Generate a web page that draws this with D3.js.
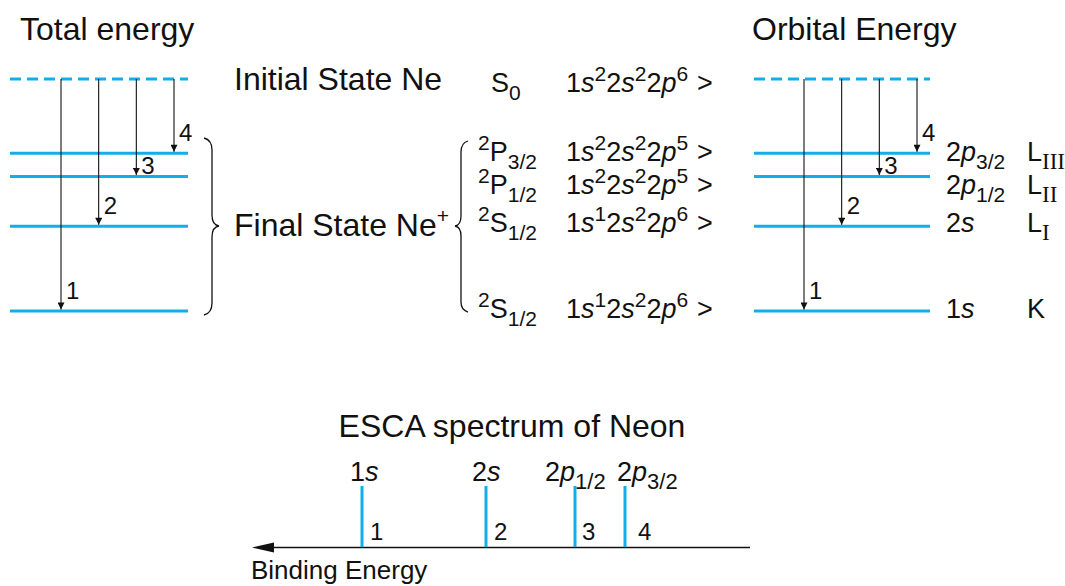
<!DOCTYPE html>
<html><head><meta charset="utf-8">
<script src="https://cdn.jsdelivr.net/npm/d3@7"></script>
<style>
html,body{margin:0;padding:0;background:#fff;}
text{font-family:"Liberation Sans",Arial,Helvetica,sans-serif;fill:#111;}
</style></head>
<body>
<svg id="c" width="1065" height="586"></svg>
<script>
// ---------------- data ----------------
// energy levels (relative energies, initial state = 0, deepest level = 100)
const initialEnergy = 0;
const levelNames   = ["2p3/2", "2p1/2", "2s", "1s"];
const levelEnergy  = [32, 42, 63.5, 100];
const shellNames   = ["L", "L", "L", "K"];
const shellSubs    = ["III", "II", "I", ""];
const arrowNumbers = ["4", "3", "2", "1"];
const arrowOrder   = [3, 2, 1, 0];          // arrow column index for each level
// term symbols of the states
const termMult   = ["", "2", "2", "2", "2"];
const termL      = ["S", "P", "P", "S", "S"];
const termJ      = ["0", "3/2", "1/2", "1/2", "1/2"];
const occ1s      = ["2", "2", "2", "1", "1"];
const occ2s      = ["2", "2", "2", "2", "2"];
const occ2p      = ["6", "5", "5", "6", "6"];
// ESCA spectrum (schematic binding-energy positions, relative units)
const peakLabels = ["1s", "2s", "2p", "2p"];
const peakSubs   = ["", "", "1/2", "3/2"];
const peakNumbers= ["1", "2", "3", "4"];
const peakBE     = [77.6, 52.8, 35, 25];
const peakHeight = [1, 1, 1, 1];
// texts
const titleLeft = "Total energy", titleRight = "Orbital Energy";
const initialLabel = "Initial State Ne", finalLabel = "Final State Ne";
const spectrumTitle = "ESCA spectrum of Neon", axisLabel = "Binding Energy";

// ---------------- drawing ----------------
const svg = d3.select("#c");
const BLUE = "#12aee9";
const serif = '"Liberation Serif","Times New Roman",serif';

svg.append("defs").append("marker")
  .attr("id","ah").attr("viewBox","0 0 10 10").attr("refX",10).attr("refY",5)
  .attr("markerWidth",11).attr("markerHeight",7).attr("markerUnits","userSpaceOnUse")
  .attr("orient","auto")
  .append("path").attr("d","M0,0 L10,5 L0,10 Z").attr("fill","#111");

const y = d3.scaleLinear().domain([0, 100]).range([79, 311]);

// rich text helper: parts = [[text, kind, opts]], kind: n, i, sup, sub
function rich(x, yb, size, parts, anchor, ratio) {
  ratio = ratio || 0.76;
  const t = svg.append("text").attr("x", x).attr("y", yb)
    .attr("font-size", size).attr("text-anchor", anchor || "start")
    .style("white-space","pre");
  let off = 0;
  parts.forEach(([s, kind, o]) => {
    o = o || {};
    let target = 0, fs = size;
    if (kind === "sup") { target = -0.4 * size; fs = Math.round(size * ratio); }
    if (kind === "sub") { target = 0.3 * size; fs = Math.round(size * ratio); }
    const sp = t.append("tspan").text(s).attr("font-size", fs).attr("dy", target - off);
    if (o.dx) sp.attr("dx", o.dx);
    if (kind === "i" || o.italic) sp.attr("font-style", "italic");
    if (o.serif) sp.style("font-family", serif);
    off = target;
  });
  return t;
}

// titles
rich(20, 40, 32, [[titleLeft, "n"]]);
rich(752, 40, 32, [[titleRight, "n"]]);

function panel(x0, x1, ax0, ax1) {
  const g = svg.append("g");
  const ax = d3.scaleLinear().domain([0, 3]).range([ax0, ax1]);
  g.append("line").attr("x1", x0).attr("x2", x1).attr("y1", y(initialEnergy)).attr("y2", y(initialEnergy))
    .attr("stroke", BLUE).attr("stroke-width", 3).attr("stroke-dasharray", "11,6");
  g.selectAll(".lv").data(levelEnergy).join("line")
    .attr("x1", x0).attr("x2", x1).attr("y1", d => y(d)).attr("y2", d => y(d))
    .attr("stroke", BLUE).attr("stroke-width", 3);
  levelEnergy.forEach((e, i) => {
    const xa = ax(arrowOrder[i]);
    g.append("line").attr("x1", xa).attr("x2", xa)
      .attr("y1", y(initialEnergy)).attr("y2", y(e) - 1.5)
      .attr("stroke", "#111").attr("stroke-width", 1.1).attr("marker-end", "url(#ah)");
    const lift = arrowNumbers[i] === "3" ? 2 : 12;
    rich(xa + 5, y(e) - lift, 24, [[arrowNumbers[i], "n"]]);
  });
}
panel(10, 188, 61, 174);
panel(754, 930, 804, 917);

// braces
svg.append("path").attr("fill","none").attr("stroke","#111").attr("stroke-width",1.3)
  .attr("d","M204,138 Q212,140 212,150 L212,215 Q212,225 219,226 Q212,227 212,237 L212,303 Q212,313 204,315");
svg.append("path").attr("fill","none").attr("stroke","#111").attr("stroke-width",1.3)
  .attr("d","M468,141 Q461,143 461,152 L461,216 Q461,225 455,226 Q461,227 461,236 L461,302 Q461,310 468,312");

// state labels
rich(234, 90, 32, [[initialLabel, "n"]]);
rich(234, 236, 32, [[finalLabel, "n"], ["+", "sup"]], "start", 0.65);

// term symbols and configurations
const rowBase = [92, 161, 194, 232, 318];
termL.forEach((L, i) => {
  const parts = [];
  if (termMult[i]) parts.push([termMult[i], "sup"]);
  parts.push([L, "n"]); parts.push([termJ[i], "sub"]);
  rich(termMult[i] ? 478 : 491, rowBase[i], 27, parts);
  rich(566, rowBase[i], 27, [
    ["1", "n"], ["s", "i"], [occ1s[i], "sup"],
    ["2", "n"], ["s", "i"], [occ2s[i], "sup"],
    ["2", "n"], ["p", "i"], [occ2p[i], "sup"]], "start", 0.78);
  rich(697, rowBase[i], 27, [[">", "n"]]);
});

// orbital labels (right)
levelNames.forEach((nm, i) => {
  const yb = rowBase[i + 1];
  const parts = [[nm[0], "n"], [nm[1], "i"]];
  if (nm.length > 2) parts.push([nm.slice(2), "sub"]);
  rich(946, yb, 27, parts, "start", 0.78);
  const sp = [[shellNames[i], "n"]];
  if (shellSubs[i]) sp.push([shellSubs[i], "sub", {serif: true}]);
  rich(1027, yb, 27, sp, "start", 0.85);
});

// ---------------- ESCA spectrum ----------------
const xs = d3.scaleLinear().domain([0, 100]).range([750, 250]);
const hs = d3.scaleLinear().domain([0, 1]).range([547, 486]);
rich(512, 437, 32, [[spectrumTitle, "n"]], "middle");
svg.append("line").attr("x1", xs(0)).attr("x2", xs(100) + 18).attr("y1", 547.5).attr("y2", 547.5)
  .attr("stroke", "#111").attr("stroke-width", 1.6);
svg.append("path").attr("d", `M${xs(100)+2},547.5 L${xs(100)+24},542.5 L${xs(100)+24},552.5 Z`).attr("fill", "#111");
svg.selectAll(".pk").data(peakBE).join("line")
  .attr("x1", d => xs(d)).attr("x2", d => xs(d))
  .attr("y1", (d, i) => hs(peakHeight[i])).attr("y2", 547)
  .attr("stroke", BLUE).attr("stroke-width", 3);
const labelShift = [-12, -14, -30, -8];
const numShift = [8, 8, 7, 13];
peakBE.forEach((d, i) => {
  const parts = [[peakLabels[i][0], "n"], [peakLabels[i][1], "i"]];
  if (peakSubs[i]) parts.push([peakSubs[i], "sub"]);
  rich(xs(d) + labelShift[i], 481, 27, parts, "start", 0.8);
  rich(xs(d) + numShift[i], 540, 24, [[peakNumbers[i], "n"]]);
});
rich(251, 579, 26, [[axisLabel, "n"]]);
</script>
</body></html>
